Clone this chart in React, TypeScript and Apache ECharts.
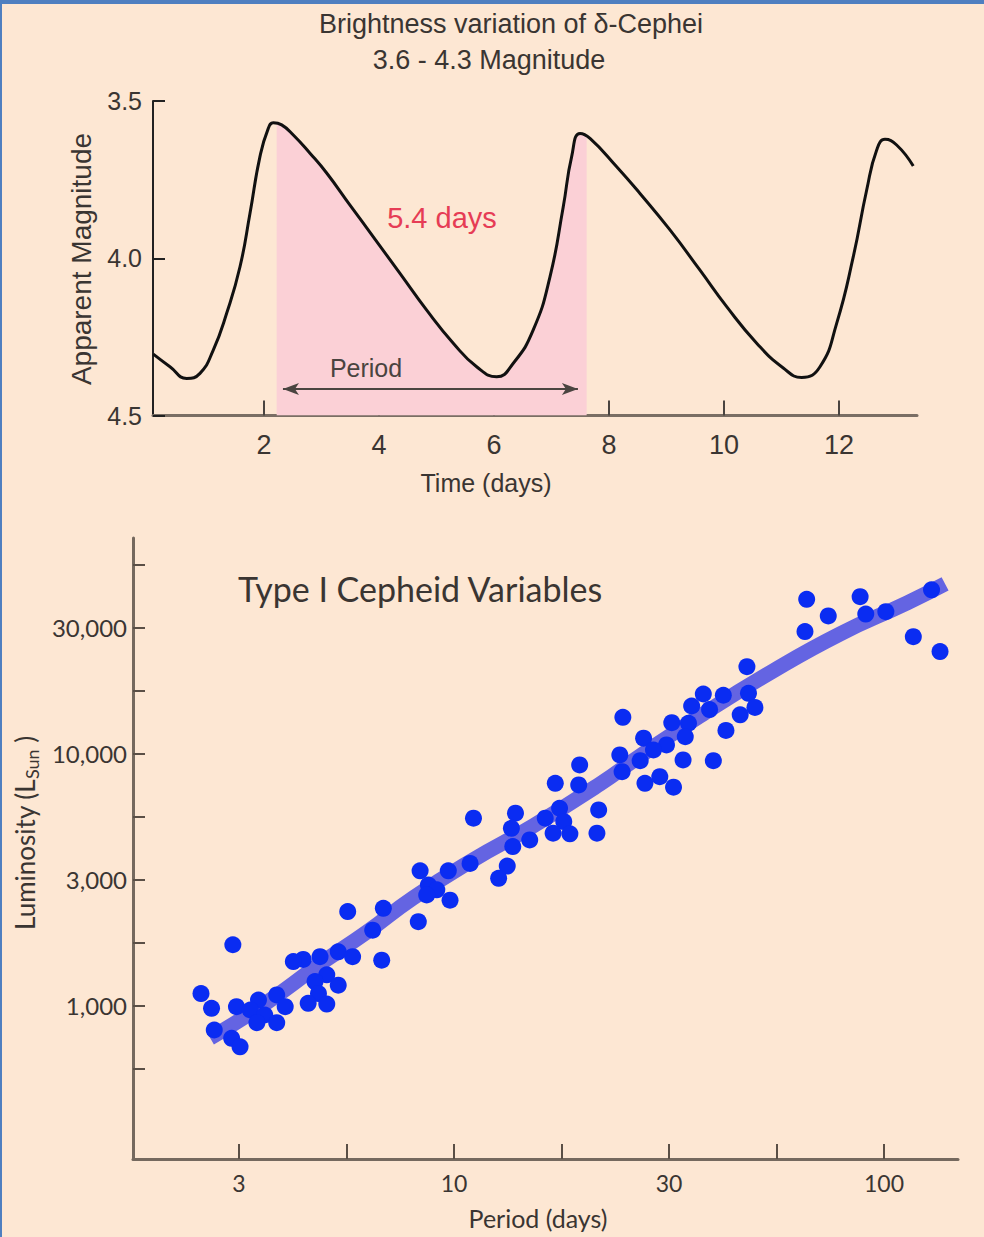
import React, { useEffect, useRef } from 'react';
import * as echarts from 'echarts';

// ---------- Top chart: brightness variation of delta Cephei ----------
const curveDays = [0.075, 0.365, 0.656, 0.887, 1.118, 1.351, 1.583, 1.757, 1.93, 2.075, 2.162, 2.308, 2.51, 2.8, 3.09, 3.496, 3.901, 4.365, 4.83, 5.292, 5.699, 6.047, 6.336, 6.683, 6.974, 7.205, 7.351, 7.496, 7.67, 8.134, 8.539, 9.061, 9.583, 10.047, 10.569, 11.031, 11.351, 11.67, 11.96, 12.249, 12.482, 12.656, 12.8, 13.003, 13.292];
const curveMags = [4.305, 4.345, 4.382, 4.366, 4.292, 4.175, 4.027, 3.857, 3.677, 3.587, 3.569, 3.576, 3.608, 3.666, 3.729, 3.831, 3.932, 4.048, 4.165, 4.27, 4.345, 4.377, 4.334, 4.228, 4.059, 3.836, 3.677, 3.603, 3.619, 3.709, 3.794, 3.91, 4.038, 4.154, 4.27, 4.349, 4.379, 4.345, 4.207, 3.995, 3.783, 3.656, 3.622, 3.64, 3.707];
const periodStartDay = 2.221;
const periodStartMag = 3.572;
const periodEndDay = 7.612;
const periodEndMag = 3.613;
const arrowDays = [2.33, 7.46];
const arrowMag = 4.416;
const timeTicks = [2, 4, 6, 8, 10, 12];
const magTicks = [3.5, 4.0, 4.5];

// ---------- Bottom chart: Type I Cepheid period-luminosity ----------
const cepheidPeriods = [11.1, 10.9, 8.34, 9.7, 8.72, 9.12, 8.64, 9.79, 8.26, 5.66, 6.85, 6.47, 6.79, 5.38, 5.81, 4.88, 4.46, 4.23, 3.06, 5.06, 4.75, 5.38, 4.84, 4.58, 5.06, 3.87, 4.05, 3.51, 3.12, 3.36, 3.63, 3.48, 3.87, 2.58, 2.73, 2.77, 3.04, 3.18,
  24.7, 32.1, 35.1, 34.5, 27.6, 31.2, 29.1, 24.3, 27.1, 34.1, 24.6, 27.8, 30.1, 32.4, 19.6, 17.2, 19.5, 21.7, 21.5, 17.6, 16.3, 18.0, 17.0, 18.6, 13.9, 13.6, 15.0, 13.7, 13.3, 12.7,
  66.1, 88.0, 129, 74.2, 90.7, 101, 65.5, 117, 135, 48.0, 38.0, 42.3, 48.4, 35.7, 39.3, 50.1, 46.3, 42.9, 40.1];
const cepheidLums = [5560, 3680, 3440, 3440, 3020, 2890, 2760, 2630, 2160, 2370, 2440, 2000, 1520, 1640, 1570, 1570, 1530, 1500, 1750, 1330, 1250, 1210, 1120, 1025, 1018, 1106, 994, 1056, 994, 964, 921, 859, 859, 1120, 979, 803, 744, 689,
  13980, 13310, 13240, 11710, 11550, 10860, 10370, 9910, 9410, 9470, 8510, 7650, 8130, 7380, 9050, 7650, 7540, 6000, 4850, 6090, 5560, 5390, 4850, 4820, 5820, 5070, 4560, 4290, 3590, 3210,
  41100, 42100, 44800, 35300, 35900, 36700, 30600, 29200, 25500, 22200, 17300, 17100, 17400, 15500, 15000, 15300, 14300, 12400, 9410];
const trendPeriods = [2.71, 3.6, 4.88, 6.28, 8.03, 11.07, 15.27, 21.85, 27.08, 37.34, 55.2, 79.0, 113.1, 138.7];
const trendLums = [747, 1009, 1468, 1967, 2683, 3797, 5180, 7603, 9817, 14154, 21350, 29940, 39730, 47280];
const periodTickExps = [0.5, 0.75, 1, 1.25, 1.5, 1.75, 2];
const periodLabelExps = [0.5, 1, 1.5, 2];
const periodLabels = ['3', '10', '30', '100'];
const lumTickExps = [2.75, 3, 3.25, 3.5, 3.75, 4, 4.25, 4.5, 4.75];
const lumLabelExps = [3, 3.5, 4, 4.5];
const lumLabels = ['1,000', '3,000', '10,000', '30,000'];

const SANS = "'Liberation Sans', Arial, Helvetica, sans-serif";
const HUM = "Lato, 'Open Sans', sans-serif";
const TXT = '#3a3532';

export default function App() {
  const ref = useRef<HTMLDivElement>(null);

  useEffect(() => {
    if (!ref.current) return;
    const chart = echarts.init(ref.current, undefined, { renderer: 'svg' });

    const curve = curveDays.map((d, i) => [d, curveMags[i]]);
    const shaded = [[periodStartDay, periodStartMag]]
      .concat(curve.filter(p => p[0] > periodStartDay && p[0] < periodEndDay))
      .concat([[periodEndDay, periodEndMag]]);
    const scatter = cepheidPeriods.map((p, i) => [Math.log10(p), Math.log10(cepheidLums[i])]);
    const trend = trendPeriods.map((p, i) => [Math.log10(p), Math.log10(trendLums[i])]);

    const labelAt = (exps: number[], labels: string[]) => (v: number) => {
      const k = exps.findIndex(e => Math.abs(e - v) < 1e-6);
      return k >= 0 ? labels[k] : '';
    };

    const option: any = {
      animation: false,
      backgroundColor: '#fde7d3',
      grid: [
        { left: 153, top: 101, width: 764, height: 314.5 },
        { left: 133, top: 538, width: 825, height: 621 },
      ],
      xAxis: [
        {
          gridIndex: 0, type: 'value', min: 0.07, max: 13.357,
          splitLine: { show: false },
          axisLine: { show: true, onZero: false, lineStyle: { color: '#7a6e64', width: 3 } },
          axisTick: { show: true, inside: true, length: 15, customValues: timeTicks, lineStyle: { color: '#4a4440', width: 2 } },
          axisLabel: { customValues: timeTicks, margin: 16, color: TXT, fontSize: 27, fontFamily: SANS },
        },
        {
          gridIndex: 1, type: 'value', min: 0.2535, max: 2.1721,
          splitLine: { show: false },
          axisLine: { show: true, onZero: false, lineStyle: { color: '#75695e', width: 3 } },
          axisTick: { show: true, inside: true, length: 15, customValues: periodTickExps, lineStyle: { color: '#5a4f46', width: 2 } },
          axisLabel: { customValues: periodLabelExps, formatter: labelAt(periodLabelExps, periodLabels), margin: 12, color: TXT, fontSize: 23, fontFamily: HUM },
        },
      ],
      yAxis: [
        {
          gridIndex: 0, type: 'value', inverse: true, min: 3.5, max: 4.5,
          splitLine: { show: false },
          axisLine: { show: true, onZero: false, lineStyle: { color: '#222', width: 2 } },
          axisTick: { show: true, inside: true, length: 12, customValues: magTicks, lineStyle: { color: '#222', width: 2 } },
          axisLabel: { customValues: magTicks, formatter: (v: number) => v.toFixed(1), margin: 11, color: TXT, fontSize: 25, fontFamily: SANS },
        },
        {
          gridIndex: 1, type: 'value', min: 2.3929, max: 4.857,
          splitLine: { show: false },
          axisLine: { show: true, onZero: false, lineStyle: { color: '#75695e', width: 3 } },
          axisTick: { show: true, inside: true, length: 12, customValues: lumTickExps, lineStyle: { color: '#5a4f46', width: 2 } },
          axisLabel: { customValues: lumLabelExps, formatter: labelAt(lumLabelExps, lumLabels), margin: 6, color: TXT, fontSize: 24, fontFamily: HUM },
        },
      ],
      series: [
        {
          type: 'line', xAxisIndex: 0, yAxisIndex: 0, data: shaded, smooth: 0.5,
          symbol: 'none', lineStyle: { width: 0 },
          areaStyle: { color: '#fbd0d6', opacity: 1, origin: 'end' }, z: 1, silent: true,
        },
        {
          type: 'line', xAxisIndex: 0, yAxisIndex: 0, data: curve, smooth: 0.5,
          symbol: 'none', lineStyle: { color: '#111', width: 3 }, z: 3,
          markLine: {
            silent: true, symbol: ['arrow', 'arrow'], symbolSize: [9, 16],
            lineStyle: { color: '#4a4440', width: 2, type: 'solid' }, label: { show: false },
            data: [[{ coord: [arrowDays[0], arrowMag] }, { coord: [arrowDays[1], arrowMag] }]],
          },
        },
        {
          type: 'line', xAxisIndex: 1, yAxisIndex: 1, data: trend, smooth: true,
          symbol: 'none', lineStyle: { color: '#6464e2', width: 15, cap: 'butt', opacity: 1 }, z: 2,
        },
        {
          type: 'scatter', xAxisIndex: 1, yAxisIndex: 1, data: scatter,
          symbolSize: 17, itemStyle: { color: '#0a2cf2', opacity: 1 }, z: 4,
        },
      ],
      graphic: [
        { type: 'rect', shape: { x: 0, y: 0, width: 984, height: 4 }, style: { fill: '#4f7fc0' } },
        { type: 'rect', shape: { x: 0, y: 0, width: 2, height: 1237 }, style: { fill: '#4f7fc0' } },
        { type: 'text', x: 511, y: 24, style: { text: 'Brightness variation of δ-Cephei', fontSize: 27, fontFamily: SANS, fill: TXT, align: 'center', verticalAlign: 'middle' } },
        { type: 'text', x: 489, y: 60, style: { text: '3.6 - 4.3 Magnitude', fontSize: 27, fontFamily: SANS, fill: TXT, align: 'center', verticalAlign: 'middle' } },
        { type: 'text', x: 442, y: 218, z: 10, style: { text: '5.4 days', fontSize: 29, fontFamily: SANS, fill: '#e63c55', align: 'center', verticalAlign: 'middle' } },
        { type: 'text', x: 366, y: 368, z: 10, style: { text: 'Period', fontSize: 25, fontFamily: SANS, fill: '#4a4440', align: 'center', verticalAlign: 'middle' } },
        { type: 'text', x: 486, y: 483, style: { text: 'Time (days)', fontSize: 25, fontFamily: SANS, fill: TXT, align: 'center', verticalAlign: 'middle' } },
        { type: 'text', x: 81, y: 259, rotation: Math.PI / 2, style: { text: 'Apparent Magnitude', fontSize: 28, fontFamily: SANS, fill: TXT, align: 'center', verticalAlign: 'middle' } },
        { type: 'text', x: 238, y: 588, style: { text: 'Type I Cepheid Variables', fontSize: 34, fontFamily: HUM, fill: TXT, align: 'left', verticalAlign: 'middle' } },
        { type: 'text', x: 538, y: 1218, style: { text: 'Period (days)', fontSize: 25, fontFamily: HUM, fill: TXT, align: 'center', verticalAlign: 'middle' } },
        {
          type: 'text', x: 25, y: 833, rotation: Math.PI / 2,
          style: {
            text: '{a|Luminosity (L}{s|Sun}{a| )}', align: 'center', verticalAlign: 'middle', fill: TXT,
            rich: {
              a: { fontSize: 26, fontFamily: HUM, fill: TXT, lineHeight: 32, verticalAlign: 'middle' },
              s: { fontSize: 18, fontFamily: HUM, fill: TXT, lineHeight: 32, verticalAlign: 'bottom' },
            },
          },
        },
      ],
    };

    chart.setOption(option);
    return () => chart.dispose();
  }, []);

  return <div ref={ref} style={{ position: 'absolute', left: 0, top: 0, width: 984, height: 1237 }} />;
}
